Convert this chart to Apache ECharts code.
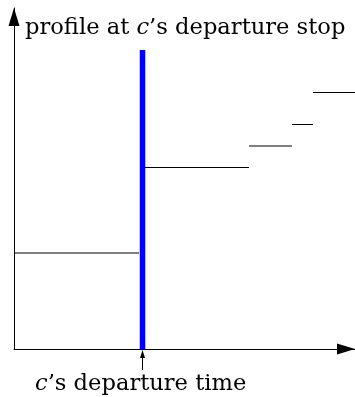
<!DOCTYPE html>
<html><head><meta charset="utf-8">
<script src="https://cdn.jsdelivr.net/npm/echarts@6/dist/echarts.min.js"></script>
<style>html,body{margin:0;padding:0;background:#fff}#c{width:355px;height:397px}</style>
</head><body><div id="c"></div>
<script>
// Data (arbitrary time / profile units)
const xMax = 341, yMax = 341;
const departureTime = 128.5;
const departureTop = 299;
const beforeSegment = [[0, 96], [125, 96]];
const stepX = [131, 235, 278, 299, 341];
const stepY = [181.5, 203, 224.5, 256.5];
const tickArrow = [-21, -5];

const profileData = [beforeSegment[0], beforeSegment[1], '-'];
for (let i = 0; i < stepY.length; i++) {
  profileData.push([stepX[i], stepY[i]], [stepX[i + 1], stepY[i]], '-');
}

const serif = '"DejaVu Serif", "Liberation Serif", serif';
const chart = echarts.init(document.getElementById('c'), null, {renderer: 'canvas'});
const axisCommon = {
  type: 'value', min: 0, max: xMax,
  axisLine: {show: true, symbol: ['none', 'triangle'], symbolSize: [11, 18], symbolOffset: [0, -9],
    lineStyle: {color: '#000', width: 1}},
  axisTick: {show: false}, axisLabel: {show: false}, splitLine: {show: false}
};
const fs = 22.6;
chart.setOption({
  animation: false,
  backgroundColor: '#fff',
  title: [
    {text: 'profile at {i|c}\u2019s departure stop', left: 25, top: 17, padding: 0,
      textStyle: {fontFamily: serif, fontSize: fs, fontWeight: 'normal', color: '#000',
        rich: {i: {fontFamily: serif, fontSize: fs, fontStyle: 'italic', color: '#000'}}}},
    {text: '{i|c}\u2019s departure time', left: 35, top: 373, padding: 0,
      textStyle: {fontFamily: serif, fontSize: fs, fontWeight: 'normal', color: '#000',
        rich: {i: {fontFamily: serif, fontSize: fs, fontStyle: 'italic', color: '#000'}}}}
  ],
  grid: {left: 14, right: 0, top: 8, bottom: 48, containLabel: false},
  xAxis: Object.assign({}, axisCommon, {max: xMax}),
  yAxis: Object.assign({}, axisCommon, {max: yMax}),
  series: [
    {type: 'line', data: profileData, symbol: 'none', connectNulls: false,
      lineStyle: {color: '#000', width: 1}},
    {type: 'line', data: [[departureTime, 0], [departureTime, departureTop]], symbol: 'none',
      lineStyle: {color: '#0000ff', width: 5.5}},
    {type: 'line', clip: false, data: [
        {value: [departureTime, tickArrow[0]], symbol: 'none'},
        {value: [departureTime, tickArrow[1]], symbol: 'triangle', symbolSize: [5, 8]}],
      showSymbol: true, lineStyle: {color: '#000', width: 1}, itemStyle: {color: '#000'}}
  ]
});
</script></body></html>
